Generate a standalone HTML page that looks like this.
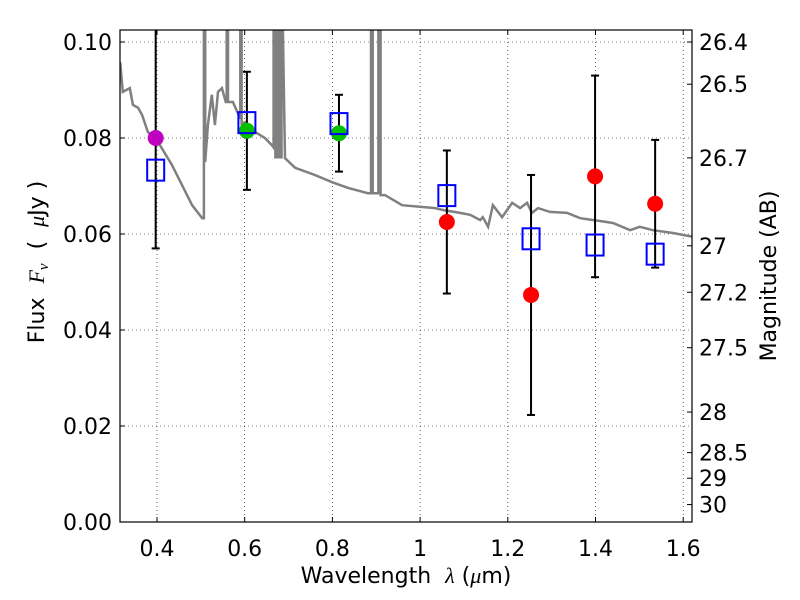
<!DOCTYPE html>
<html><head><meta charset="utf-8"><style>
body{margin:0;background:#fff}
svg{display:block;font-family:"DejaVu Sans","Liberation Sans",sans-serif}
</style></head><body>
<svg id="c" width="800" height="600"></svg>
<script>
const specWl=[0.316,0.322,0.338,0.345,0.357,0.366,0.379,0.402,0.434,0.457,0.480,0.503,0.507,0.507,0.510,0.510,0.516,0.525,0.532,0.539,0.548,0.557,0.559,0.559,0.562,0.562,0.573,0.590,0.590,0.593,0.593,0.601,0.623,0.646,0.662,0.666,0.666,0.670,0.670,0.675,0.675,0.680,0.680,0.684,0.684,0.692,0.715,0.760,0.799,0.836,0.881,0.888,0.888,0.892,0.892,0.905,0.905,0.910,0.910,0.920,0.959,1.034,1.052,1.091,1.114,1.137,1.143,1.155,1.166,1.187,1.210,1.228,1.244,1.255,1.269,1.296,1.335,1.365,1.410,1.440,1.479,1.501,1.531,1.577,1.611,1.625];
const specFlux=[0.0958,0.0896,0.0904,0.0869,0.0863,0.0848,0.0813,0.0792,0.0744,0.0702,0.0660,0.0633,0.0633,0.12,0.12,0.075,0.0827,0.0890,0.0827,0.0896,0.0904,0.0875,0.0875,0.12,0.12,0.0875,0.0875,0.084,0.12,0.12,0.083,0.0833,0.0813,0.0800,0.0785,0.078,0.12,0.12,0.076,0.076,0.12,0.12,0.076,0.076,0.12,0.0758,0.0738,0.0723,0.0708,0.0696,0.0685,0.0685,0.12,0.12,0.0685,0.0685,0.12,0.12,0.0681,0.0681,0.0660,0.0654,0.0650,0.0644,0.0640,0.0629,0.0635,0.0615,0.0660,0.0635,0.0665,0.0654,0.0665,0.0644,0.0654,0.0646,0.0644,0.0633,0.0627,0.0623,0.0608,0.0615,0.0608,0.0602,0.0596,0.0594];
const obsWl=[0.397,0.605,0.815,1.061,1.253,1.399,1.536];
const obsFlux=[0.080,0.0815,0.081,0.0625,0.0473,0.072,0.0663];
const obsErr=[0.023,0.0123,0.008,0.0149,0.025,0.021,0.0133];
const obsColor=['#bf00bf','#00c000','#00c000','red','red','red','red'];
const modelFlux=[0.0733,0.0832,0.0830,0.0680,0.0590,0.0577,0.0558];
const xTicks=[0.4,0.6,0.8,1.0,1.2,1.4,1.6];
const xTickLabels=['0.4','0.6','0.8','1','1.2','1.4','1.6'];
const yTicks=[0,0.02,0.04,0.06,0.08,0.10];
const yTickLabels=['0.00','0.02','0.04','0.06','0.08','0.10'];
const magTicks=[26.4,26.5,26.7,27,27.2,27.5,28,28.5,29,30];

const L=120,R=692,T=30,B=522,FS=22;
const X=v=>157+(v-0.4)*438.5;
const Y=f=>522-f*4800;
const NS='http://www.w3.org/2000/svg';
const svg=document.getElementById('c');
function mk(tag,attrs,parent){const e=document.createElementNS(NS,tag);for(const k in attrs)e.setAttribute(k,attrs[k]);(parent||svg).appendChild(e);return e;}
const defs=mk('defs',{});const cp=mk('clipPath',{id:'clip'},defs);mk('rect',{x:L,y:T,width:R-L,height:B-T},cp);
const grid=mk('g',{});


xTicks.forEach((v,i)=>{
  mk('line',{x1:X(v),x2:X(v),y1:T,y2:B,stroke:'#000','stroke-width':0.6,'stroke-dasharray':'1,3'},grid);
  mk('line',{x1:X(v),x2:X(v),y1:B,y2:B-5,stroke:'#000'});mk('line',{x1:X(v),x2:X(v),y1:T,y2:T+5,stroke:'#000'});
  const t=mk('text',{x:X(v),y:B+34,'text-anchor':'middle','font-size':FS});t.textContent=xTickLabels[i];
  
  
});
yTicks.forEach((v,i)=>{
  mk('line',{x1:L,x2:R,y1:Y(v),y2:Y(v),stroke:'#000','stroke-width':0.6,'stroke-dasharray':'1,3'},grid);
  mk('line',{x1:L,x2:L+5,y1:Y(v),y2:Y(v),stroke:'#000'});
  const t=mk('text',{x:L-8,y:Y(v)+8,'text-anchor':'end','font-size':FS});t.textContent=yTickLabels[i];
  
  
});
magTicks.forEach(m=>{
  const f=Math.pow(10,(23.9-m)/2.5);const y=Y(f);
  mk('line',{x1:R,x2:R-5,y1:y,y2:y,stroke:'#000'});
  const t=mk('text',{x:R+7,y:y+8,'font-size':FS});t.textContent=String(m);
  
  
});
const plot=mk('g',{'clip-path':'url(#clip)'});
let d='';specWl.forEach((w,i)=>{d+=(i?'L':'M')+X(w).toFixed(1)+','+Y(specFlux[i]).toFixed(1);});
const sp=mk('path',{d:d,fill:'none',stroke:'#808080','stroke-width':2.5},plot);


obsWl.forEach((w,i)=>{
  const e=mk('g',{},plot);
  
  
  const y1=Y(obsFlux[i]+obsErr[i]),y2=Y(obsFlux[i]-obsErr[i]);
  mk('line',{x1:X(w),x2:X(w),y1:y1,y2:y2,stroke:'#000','stroke-width':2},e);
  mk('line',{x1:X(w)-4,x2:X(w)+4,y1:y1,y2:y1,stroke:'#000','stroke-width':2},e);
  mk('line',{x1:X(w)-4,x2:X(w)+4,y1:y2,y2:y2,stroke:'#000','stroke-width':2},e);
});
obsWl.forEach((w,i)=>{
  const c=mk('circle',{cx:X(w),cy:Y(obsFlux[i]),r:8,fill:obsColor[i]},plot);
  
  
  const s=mk('rect',{x:X(w)-8.5,y:Y(modelFlux[i])-10.5,width:17,height:21,fill:'none',stroke:'#0000ff','stroke-width':2},plot);
  
  
});
const fr=mk('rect',{x:L,y:T,width:R-L,height:B-T,fill:'none',stroke:'#000','stroke-width':1.2});


const xl=mk('text',{x:406,y:583,'text-anchor':'middle','font-size':FS});
xl.innerHTML='Wavelength&#160;&#160;<tspan font-style="italic" font-family="Liberation Serif,serif">λ</tspan>&#160;(<tspan font-style="italic" font-family="Liberation Serif,serif">μ</tspan>m)';


const yl=mk('text',{x:0,y:0,'text-anchor':'middle','font-size':FS,transform:'translate(44,262) rotate(-90)'});
yl.innerHTML='Flux&#160;&#160;<tspan font-style="italic" font-family="Liberation Serif,serif">F</tspan><tspan font-style="italic" font-family="Liberation Serif,serif" font-size="15" dy="4">ν</tspan><tspan dy="-4">&#160;&#160;(&#160;&#160;</tspan><tspan font-style="italic" font-family="Liberation Serif,serif">μ</tspan>Jy&#160;)';


const rl=mk('text',{x:0,y:0,'text-anchor':'middle','font-size':FS,transform:'translate(776,276) rotate(-90)'});
rl.textContent='Magnitude (AB)';


</script>
</body></html>
